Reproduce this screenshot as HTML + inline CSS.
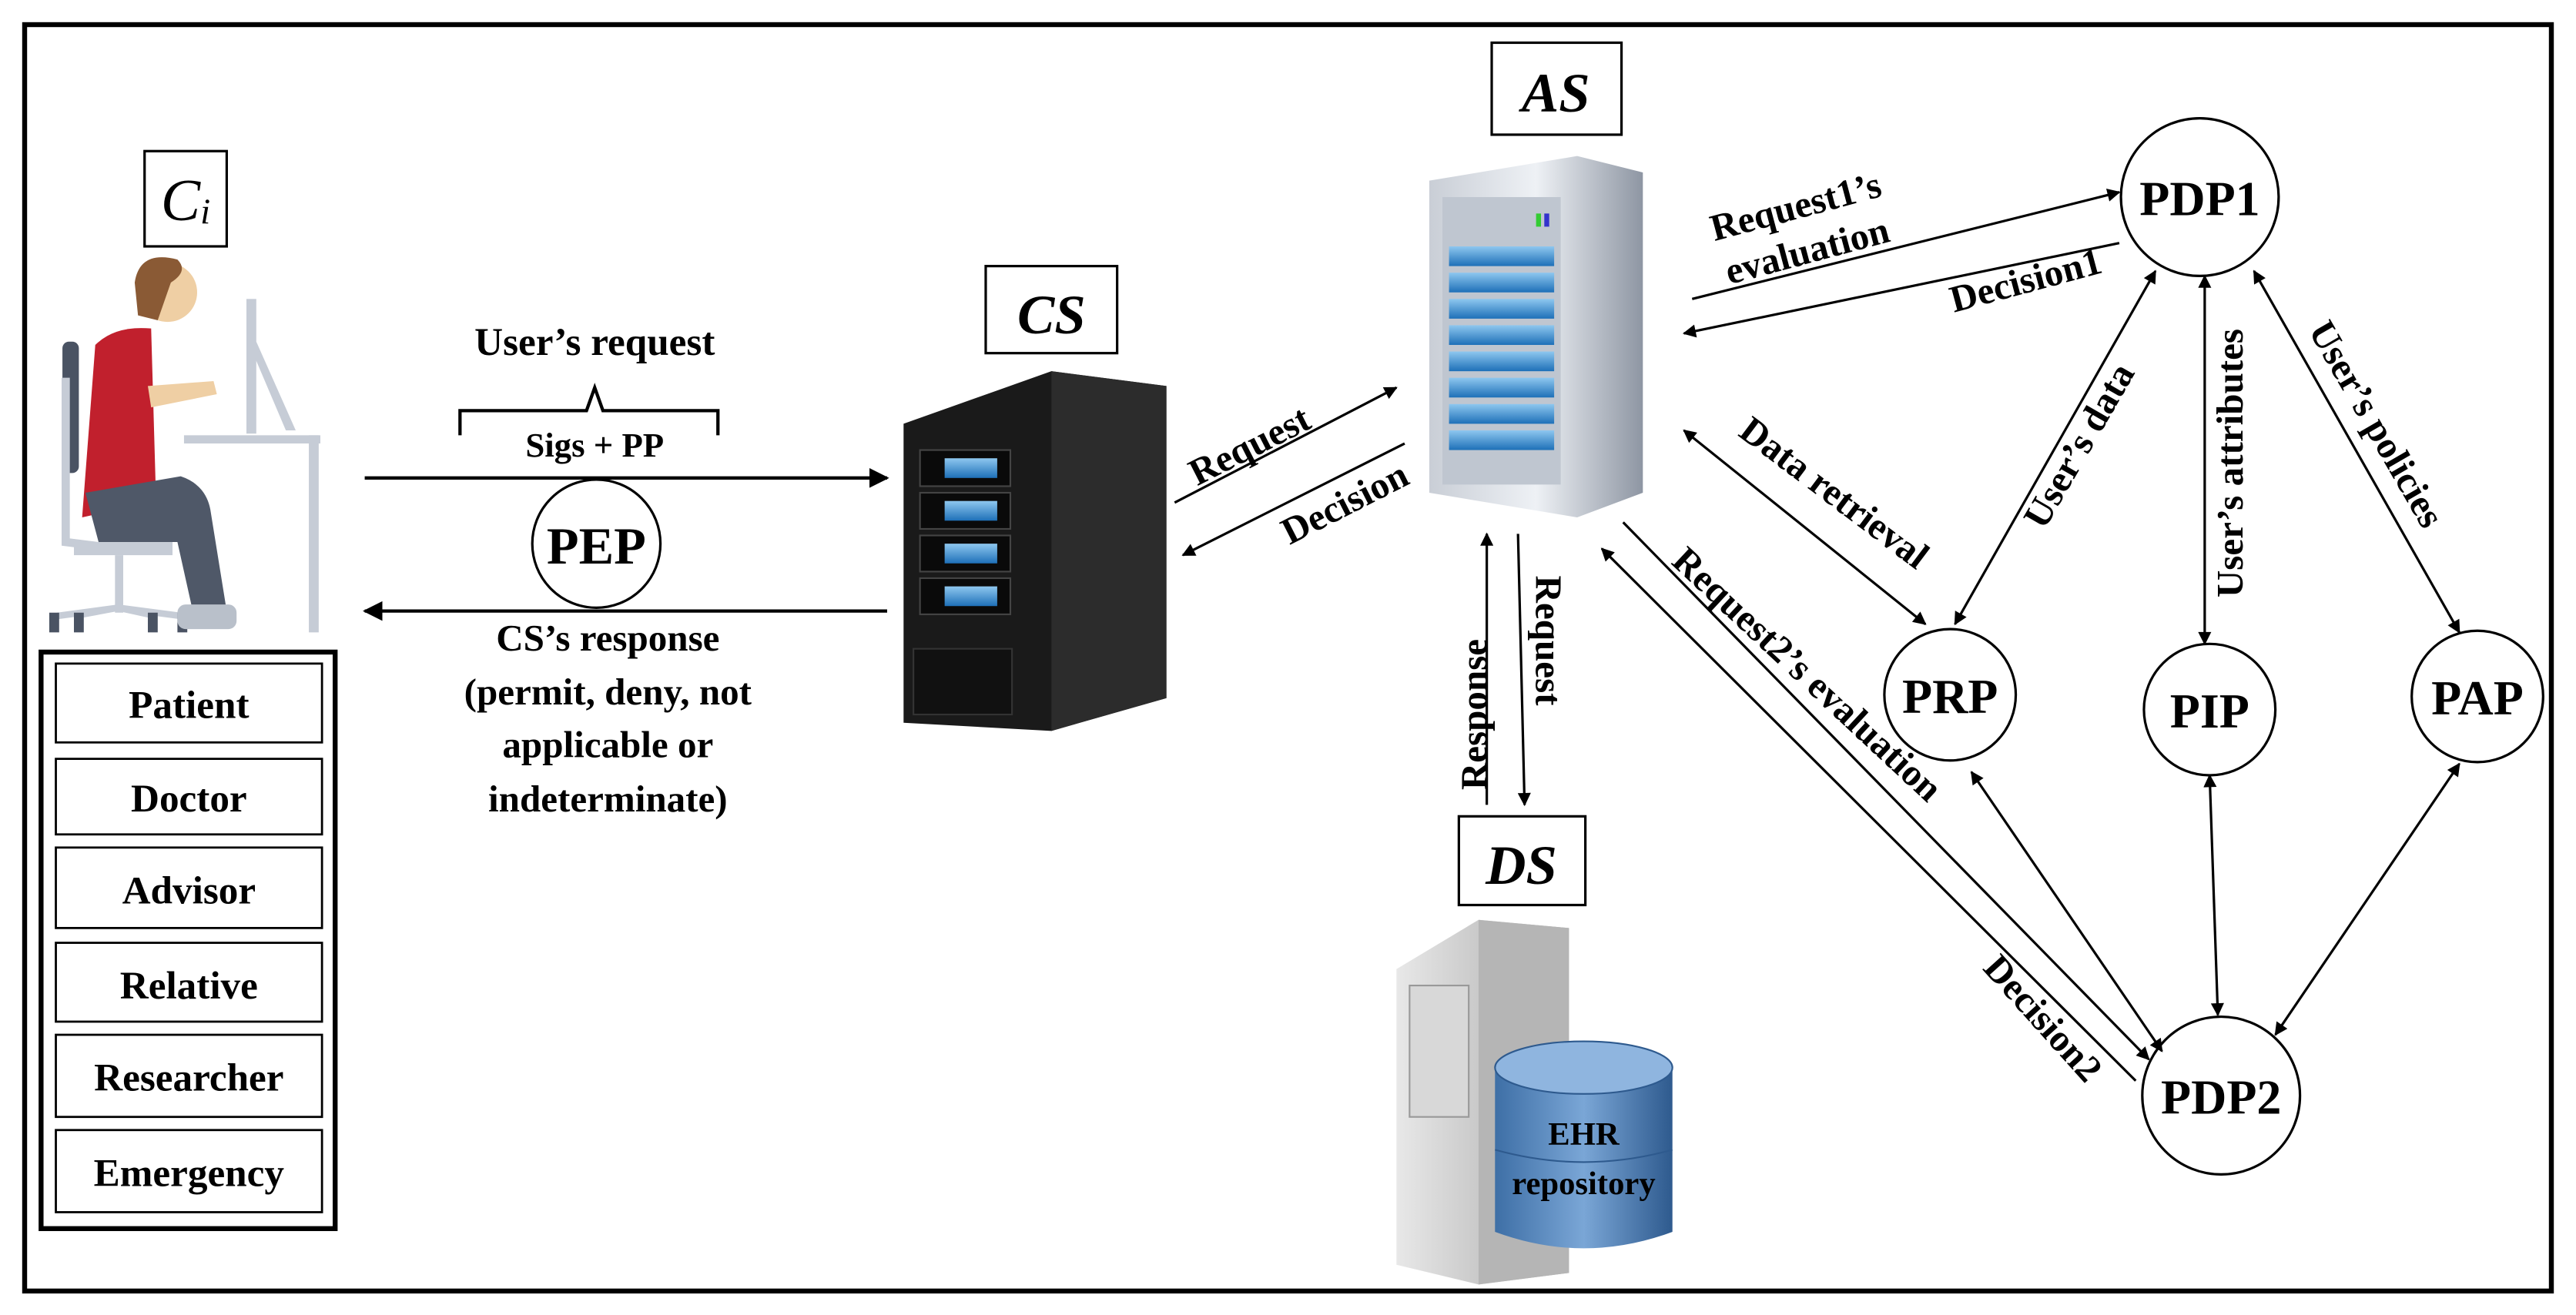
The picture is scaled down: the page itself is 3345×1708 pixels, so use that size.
<!DOCTYPE html>
<html><head><meta charset="utf-8"><style>
html,body{margin:0;padding:0;background:#fff;}
svg{display:block;}
text{font-family:"Liberation Serif",serif;font-weight:bold;fill:#000;}
</style></head><body>
<svg width="3345" height="1708" viewBox="0 0 1568 800.6" preserveAspectRatio="none" xmlns="http://www.w3.org/2000/svg">
<defs>
<marker id="ah" viewBox="0 0 10 10" refX="9" refY="5" markerWidth="9" markerHeight="8" orient="auto-start-reverse" markerUnits="userSpaceOnUse">
<path d="M0,0 L10,5 L0,10 z" fill="#000"/></marker>
<marker id="ab" viewBox="0 0 10 10" refX="9" refY="5" markerWidth="12" markerHeight="12" orient="auto-start-reverse" markerUnits="userSpaceOnUse">
<path d="M0,0 L10,5 L0,10 z" fill="#000"/></marker>
<linearGradient id="srv" x1="0" x2="1"><stop offset="0" stop-color="#c9ced6"/><stop offset="0.5" stop-color="#eef1f5"/><stop offset="1" stop-color="#8e96a3"/></linearGradient>
<linearGradient id="blue" x1="0" x2="0" y1="0" y2="1"><stop offset="0" stop-color="#8ec7ef"/><stop offset="1" stop-color="#1e70b8"/></linearGradient>
<linearGradient id="db" x1="0" x2="1"><stop offset="0" stop-color="#3e6fa6"/><stop offset="0.5" stop-color="#7aa6d6"/><stop offset="1" stop-color="#2e5a8e"/></linearGradient>
<linearGradient id="grey" x1="0" x2="1"><stop offset="0" stop-color="#e8e8e8"/><stop offset="1" stop-color="#a8a8a8"/></linearGradient>
</defs>
<rect x="15" y="15" width="1538" height="771" fill="none" stroke="#000" stroke-width="3"/>

<!-- Ci -->
<rect x="88" y="92" width="50" height="58" fill="#fff" stroke="#000" stroke-width="1.5"/>
<text x="113" y="134" font-size="36" font-style="italic" text-anchor="middle" style="font-weight:normal">C<tspan font-size="22" dy="2">i</tspan></text>

<!-- person -->
<g>
<rect x="112" y="265" width="83" height="5" fill="#c6ccd6"/>
<rect x="188" y="265" width="6" height="120" fill="#c6ccd6"/>
<rect x="150" y="182" width="6" height="82" fill="#c6ccd6"/>
<polygon points="156,208 180,262 174,262 154,215" fill="#c6ccd6"/>
<rect x="38" y="208" width="10" height="80" rx="4" fill="#4a5363"/>
<path d="M40 230 L40 330 L80 335 L80 290" stroke="#c6ccd6" stroke-width="5" fill="none"/>
<rect x="45" y="330" width="60" height="8" fill="#c6ccd6"/>
<rect x="70" y="338" width="5" height="35" fill="#c6ccd6"/>
<path d="M72 370 L35 375 M72 370 L45 375 M72 370 L95 375 M72 370 L110 375" stroke="#c6ccd6" stroke-width="4"/>
<rect x="30" y="373" width="6" height="12" fill="#4a5363"/><rect x="45" y="373" width="6" height="12" fill="#4a5363"/><rect x="90" y="373" width="6" height="12" fill="#4a5363"/><rect x="108" y="373" width="6" height="12" fill="#4a5363"/>
<path d="M58 210 Q70 198 92 200 L95 305 L50 315 Z" fill="#c1202d"/>
<path d="M52 300 L110 290 Q125 295 128 310 L138 372 L118 375 L108 330 L60 330 Z" fill="#4f5868"/>
<rect x="108" y="368" width="36" height="15" rx="5" fill="#b9c0ca"/>
<path d="M90 235 L130 232 L132 240 L92 248 Z" fill="#efcfa4"/>
<circle cx="102" cy="178" r="18" fill="#efcfa4"/>
<path d="M82 172 Q85 152 108 158 Q115 165 104 172 L96 195 L84 192 Z" fill="#8a5a35"/>
</g>

<!-- role list -->
<rect x="25" y="397" width="179" height="351" fill="none" stroke="#000" stroke-width="3"/>
<g fill="none" stroke="#000" stroke-width="1.3">
<rect x="34" y="404" width="162" height="48"/><rect x="34" y="462" width="162" height="46"/>
<rect x="34" y="516" width="162" height="49"/><rect x="34" y="574" width="162" height="48"/>
<rect x="34" y="630" width="162" height="50"/><rect x="34" y="688" width="162" height="50"/>
</g>
<g font-size="24" text-anchor="middle">
<text x="115" y="437">Patient</text><text x="115" y="494">Doctor</text>
<text x="115" y="550">Advisor</text><text x="115" y="608">Relative</text>
<text x="115" y="664">Researcher</text><text x="115" y="722">Emergency</text>
</g>

<!-- user request -->
<text x="362" y="216" font-size="24" text-anchor="middle">User’s request</text>
<path d="M280 265 L280 250 L357 250 L362 236 L367 250 L437 250 L437 265" fill="none" stroke="#000" stroke-width="2"/>
<text x="362" y="278" font-size="21" text-anchor="middle">Sigs + PP</text>
<line x1="222" y1="291" x2="540" y2="291" stroke="#000" stroke-width="2" marker-end="url(#ab)"/>
<circle cx="363" cy="331" r="39" fill="#fff" stroke="#000" stroke-width="1.5"/>
<text x="363" y="343" font-size="32" text-anchor="middle">PEP</text>
<line x1="540" y1="372" x2="222" y2="372" stroke="#000" stroke-width="2" marker-end="url(#ab)"/>
<g font-size="23" text-anchor="middle">
<text x="370" y="396">CS’s response</text><text x="370" y="429">(permit, deny, not</text>
<text x="370" y="461">applicable or</text><text x="370" y="494">indeterminate)</text>
</g>

<!-- CS -->
<rect x="600" y="162" width="80" height="53" fill="#fff" stroke="#000" stroke-width="1.5"/>
<text x="640" y="203" font-size="34" font-style="italic" text-anchor="middle">CS</text>
<polygon points="550,258 640,226 710,235 710,425 640,445 550,440" fill="#1a1a1a"/>
<polygon points="640,226 710,235 710,425 640,445" fill="#2c2c2c"/>
<g fill="#0a0a0a" stroke="#444" stroke-width="1">
<rect x="560" y="274" width="55" height="22"/><rect x="560" y="300" width="55" height="22"/>
<rect x="560" y="326" width="55" height="22"/><rect x="560" y="352" width="55" height="22"/>
</g>
<g fill="url(#blue)"><rect x="575" y="279" width="32" height="12"/><rect x="575" y="305" width="32" height="12"/><rect x="575" y="331" width="32" height="12"/><rect x="575" y="357" width="32" height="12"/></g>
<rect x="556" y="395" width="60" height="40" fill="#111" stroke="#333"/>

<line x1="715" y1="306" x2="850" y2="236" stroke="#000" stroke-width="1.5" marker-end="url(#ah)"/>
<line x1="855" y1="270" x2="720" y2="338" stroke="#000" stroke-width="1.5" marker-end="url(#ah)"/>
<text font-size="23" transform="translate(764,278) rotate(-27)" text-anchor="middle">Request</text>
<text font-size="23" transform="translate(822,313) rotate(-27)" text-anchor="middle">Decision</text>

<!-- AS -->
<rect x="908" y="26" width="79" height="56" fill="#fff" stroke="#000" stroke-width="1.5"/>
<text x="947" y="68" font-size="34" font-style="italic" text-anchor="middle">AS</text>
<polygon points="870,110 960,95 1000,105 1000,300 960,315 870,300" fill="url(#srv)"/>
<rect x="878" y="120" width="72" height="175" fill="#bfc6d0"/>
<g fill="url(#blue)">
<rect x="882" y="150" width="64" height="12"/><rect x="882" y="166" width="64" height="12"/><rect x="882" y="182" width="64" height="12"/>
<rect x="882" y="198" width="64" height="12"/><rect x="882" y="214" width="64" height="12"/><rect x="882" y="230" width="64" height="12"/>
<rect x="882" y="246" width="64" height="12"/><rect x="882" y="262" width="64" height="12"/>
</g>
<rect x="935" y="130" width="3" height="8" fill="#3c3"/><rect x="940" y="130" width="3" height="8" fill="#33c"/>

<!-- AS-DS -->
<line x1="905" y1="490" x2="905" y2="325" stroke="#000" stroke-width="1.5" marker-end="url(#ah)"/>
<line x1="924" y1="325" x2="928" y2="490" stroke="#000" stroke-width="1.5" marker-end="url(#ah)"/>
<text font-size="23" transform="translate(905,435) rotate(-90)" text-anchor="middle">Response</text>
<text font-size="23" transform="translate(935,390) rotate(90)" text-anchor="middle">Request</text>

<!-- DS -->
<rect x="888" y="497" width="77" height="54" fill="#fff" stroke="#000" stroke-width="1.5"/>
<text x="926" y="538" font-size="34" font-style="italic" text-anchor="middle">DS</text>
<polygon points="850,590 900,560 955,565 955,775 900,782 850,770" fill="url(#grey)"/>
<polygon points="900,560 955,565 955,775 900,782" fill="#b5b5b5"/>
<rect x="858" y="600" width="36" height="80" fill="#d8d8d8" stroke="#999"/>
<path d="M910 650 Q964 630 1018 650 L1018 750 Q964 770 910 750 Z" fill="url(#db)"/>
<ellipse cx="964" cy="650" rx="54" ry="16" fill="#8fb5df" stroke="#2e5a8e"/>
<path d="M910 700 Q964 715 1018 700" fill="none" stroke="#2e5a8e"/>
<text x="964" y="697" font-size="20" text-anchor="middle">EHR</text>
<text x="964" y="727" font-size="20" text-anchor="middle">repository</text>

<!-- circles -->
<g fill="#fff" stroke="#000" stroke-width="1.5">
<circle cx="1339" cy="120" r="48"/><circle cx="1187" cy="423" r="40"/>
<circle cx="1345" cy="432" r="40"/><circle cx="1508" cy="424" r="40"/>
<circle cx="1352" cy="667" r="48"/>
</g>
<g font-size="30" text-anchor="middle">
<text x="1339" y="131">PDP1</text><text x="1187" y="434">PRP</text>
<text x="1345" y="443">PIP</text><text x="1508" y="435">PAP</text>
<text x="1352" y="678">PDP2</text>
</g>

<!-- arrows right -->
<g stroke="#000" stroke-width="1.5" fill="none">
<line x1="1030" y1="182" x2="1290" y2="117" marker-end="url(#ah)"/>
<line x1="1290" y1="148" x2="1025" y2="203" marker-end="url(#ah)"/>
<line x1="1025" y1="262" x2="1172" y2="380" marker-start="url(#ah)" marker-end="url(#ah)"/>
<line x1="1190" y1="380" x2="1312" y2="165" marker-start="url(#ah)" marker-end="url(#ah)"/>
<line x1="1342" y1="168" x2="1342" y2="392" marker-start="url(#ah)" marker-end="url(#ah)"/>
<line x1="1372" y1="165" x2="1497" y2="385" marker-start="url(#ah)" marker-end="url(#ah)"/>
<line x1="988" y1="318" x2="1308" y2="645" marker-end="url(#ah)"/>
<line x1="1300" y1="658" x2="975" y2="334" marker-end="url(#ah)"/>
<line x1="1200" y1="470" x2="1316" y2="640" marker-start="url(#ah)" marker-end="url(#ah)"/>
<line x1="1345" y1="472" x2="1350" y2="618" marker-start="url(#ah)" marker-end="url(#ah)"/>
<line x1="1497" y1="465" x2="1385" y2="630" marker-start="url(#ah)" marker-end="url(#ah)"/>
</g>
<g font-size="23" text-anchor="middle">
<text transform="translate(1095,133) rotate(-15)">Request1’s</text>
<text transform="translate(1102,160) rotate(-15)">evaluation</text>
<text transform="translate(1235,178) rotate(-15)">Decision1</text>
<text transform="translate(1112,306) rotate(37)">Data retrieval</text>
<text transform="translate(1272,275) rotate(-60)">User’s data</text>
<text transform="translate(1365,282) rotate(-90)">User’s attributes</text>
<text transform="translate(1440,262) rotate(60)">User’s policies</text>
<text transform="translate(1095,416) rotate(43)">Request2’s evaluation</text>
<text transform="translate(1238,625) rotate(48)">Decision2</text>
</g>
</svg>
</body></html>
